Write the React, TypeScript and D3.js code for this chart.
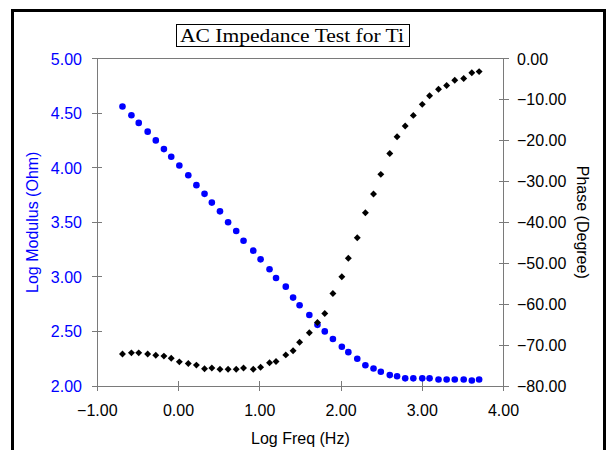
import React, { useEffect, useRef } from 'react';
import * as d3 from 'd3';

// log frequency (Hz) of each measurement
const logFreq = [
  -0.69, -0.58, -0.49, -0.38, -0.28, -0.18, -0.09, 0.01, 0.12, 0.22,
  0.32, 0.41, 0.51, 0.61, 0.71, 0.80, 0.92, 1.01, 1.12, 1.20,
  1.32, 1.41, 1.49, 1.61, 1.71, 1.80, 1.90, 2.01, 2.09, 2.20,
  2.30, 2.40, 2.49, 2.60, 2.69, 2.79, 2.89, 3.00, 3.09, 3.20,
  3.30, 3.40, 3.51, 3.61, 3.70,
];

// log modulus (Ohm), left axis
const logModulus = [
  4.56, 4.48, 4.41, 4.33, 4.25, 4.17, 4.10, 4.02, 3.93, 3.84,
  3.76, 3.68, 3.60, 3.50, 3.42, 3.33, 3.24, 3.16, 3.07, 2.99,
  2.91, 2.81, 2.74, 2.65, 2.56, 2.50, 2.43, 2.36, 2.31, 2.25,
  2.19, 2.16, 2.13, 2.10, 2.09, 2.07, 2.07, 2.07, 2.07, 2.06,
  2.06, 2.06, 2.06, 2.05, 2.06,
];

// phase (degree), right axis
const phase = [
  -72.2, -71.9, -71.9, -72.2, -72.5, -72.7, -73.2, -74.1, -74.5, -74.9,
  -75.8, -75.6, -75.9, -75.9, -75.9, -75.6, -75.9, -75.4, -74.3, -74.0,
  -72.4, -71.4, -69.3, -67.0, -64.5, -62.3, -57.4, -53.3, -48.8, -43.8,
  -37.7, -33.1, -28.3, -23.2, -19.1, -16.5, -13.9, -11.2, -9.1, -7.5,
  -6.6, -5.3, -4.9, -3.5, -3.2,
];

const xTicks = [-1, 0, 1, 2, 3, 4];
const leftTicks = [2, 2.5, 3, 3.5, 4, 4.5, 5];
const rightTicks = [-80, -70, -60, -50, -40, -30, -20, -10, 0];

const WIDTH = 608;
const HEIGHT = 450;
const plot = { left: 97.3, right: 503.5, top: 58.5, bottom: 386 };

const AXIS_COLOR = '#7a7a7a';
const FONT = 'Liberation Sans, Arial, sans-serif';

export default function App() {
  const svgRef = useRef<SVGSVGElement | null>(null);

  useEffect(() => {
    const svg = d3.select(svgRef.current);
    svg.selectAll('*').remove();

    const x = d3.scaleLinear().domain([-1, 4]).range([plot.left, plot.right]);
    const yL = d3.scaleLinear().domain([2, 5]).range([plot.bottom, plot.top]);
    const yR = d3.scaleLinear().domain([-80, 0]).range([plot.bottom, plot.top]);

    svg.append('rect')
      .attr('width', WIDTH)
      .attr('height', HEIGHT)
      .attr('fill', '#fff');

    // outer frame
    svg.append('rect')
      .attr('x', 12.5)
      .attr('y', 10.5)
      .attr('width', 592)
      .attr('height', 470)
      .attr('fill', 'none')
      .attr('stroke', '#000')
      .attr('stroke-width', 3);

    // title box
    svg.append('rect')
      .attr('x', 176.5)
      .attr('y', 24.5)
      .attr('width', 233)
      .attr('height', 22)
      .attr('fill', '#fff')
      .attr('stroke', '#000')
      .attr('stroke-width', 1);
    svg.append('text')
      .attr('x', 180)
      .attr('y', 41.5)
      .attr('font-family', 'Liberation Serif, Times New Roman, serif')
      .attr('font-size', 19)
      .attr('textLength', 224)
      .attr('lengthAdjust', 'spacingAndGlyphs')
      .text('AC Impedance Test for Ti');

    // plot box lines
    const g = svg.append('g').attr('stroke', AXIS_COLOR).attr('stroke-width', 1).attr('shape-rendering', 'crispEdges');
    g.append('line').attr('x1', plot.left).attr('x2', plot.right).attr('y1', plot.top).attr('y2', plot.top);
    g.append('line').attr('x1', plot.left).attr('x2', plot.right).attr('y1', plot.bottom).attr('y2', plot.bottom);
    g.append('line').attr('x1', plot.left).attr('x2', plot.left).attr('y1', plot.top).attr('y2', plot.bottom);
    g.append('line').attr('x1', plot.right).attr('x2', plot.right).attr('y1', plot.top).attr('y2', plot.bottom);

    // ticks (cross the axis line)
    g.selectAll('.xt').data(xTicks).enter().append('line')
      .attr('x1', (d) => x(d)).attr('x2', (d) => x(d))
      .attr('y1', plot.bottom - 5).attr('y2', plot.bottom + 5);
    g.selectAll('.lt').data(leftTicks).enter().append('line')
      .attr('x1', plot.left - 5).attr('x2', plot.left + 5)
      .attr('y1', (d) => yL(d)).attr('y2', (d) => yL(d));
    g.selectAll('.rt').data(rightTicks).enter().append('line')
      .attr('x1', plot.right - 5).attr('x2', plot.right + 5)
      .attr('y1', (d) => yR(d)).attr('y2', (d) => yR(d));

    // tick labels
    svg.selectAll('.xl').data(xTicks).enter().append('text')
      .attr('x', (d) => x(d))
      .attr('y', 416)
      .attr('text-anchor', 'middle')
      .attr('font-family', FONT)
      .attr('font-size', 16)
      .attr('fill', '#000')
      .text((d) => d3.format('.2f')(d));
    svg.selectAll('.ll').data(leftTicks).enter().append('text')
      .attr('x', 82)
      .attr('y', (d) => yL(d) + 6)
      .attr('text-anchor', 'end')
      .attr('font-family', FONT)
      .attr('font-size', 16)
      .attr('fill', '#0000ff')
      .text((d) => d3.format('.2f')(d));
    svg.selectAll('.rl').data(rightTicks).enter().append('text')
      .attr('x', 517)
      .attr('y', (d) => yR(d) + 6)
      .attr('text-anchor', 'start')
      .attr('font-family', FONT)
      .attr('font-size', 16)
      .attr('fill', '#000')
      .text((d) => d3.format('.2f')(d));

    // axis titles
    svg.append('text')
      .attr('x', (plot.left + plot.right) / 2)
      .attr('y', 444)
      .attr('text-anchor', 'middle')
      .attr('font-family', FONT)
      .attr('font-size', 16)
      .text('Log Freq (Hz)');
    svg.append('text')
      .attr('transform', `translate(38,${(plot.top + plot.bottom) / 2}) rotate(-90)`)
      .attr('text-anchor', 'middle')
      .attr('font-family', FONT)
      .attr('font-size', 16)
      .attr('fill', '#0000ff')
      .text('Log Modulus (Ohm)');
    svg.append('text')
      .attr('transform', `translate(577,${(plot.top + plot.bottom) / 2}) rotate(90)`)
      .attr('text-anchor', 'middle')
      .attr('font-family', FONT)
      .attr('font-size', 16)
      .attr('fill', '#000')
      .text('Phase (Degree)');

    // modulus points
    svg.append('g').selectAll('circle')
      .data(logFreq)
      .enter()
      .append('circle')
      .attr('cx', (d) => x(d))
      .attr('cy', (d, i) => yL(logModulus[i]))
      .attr('r', 3.3)
      .attr('fill', '#0000ff');

    // phase points
    const diamond = d3.symbol(d3.symbolSquare, 24);
    svg.append('g').selectAll('path')
      .data(logFreq)
      .enter()
      .append('path')
      .attr('d', diamond)
      .attr('transform', (d, i) => `translate(${x(d)},${yR(phase[i])}) rotate(45)`)
      .attr('fill', '#000');
  }, []);

  return (
    <svg
      ref={svgRef}
      width={WIDTH}
      height={HEIGHT}
      style={{ position: 'absolute', left: 0, top: 0, display: 'block' }}
    />
  );
}
